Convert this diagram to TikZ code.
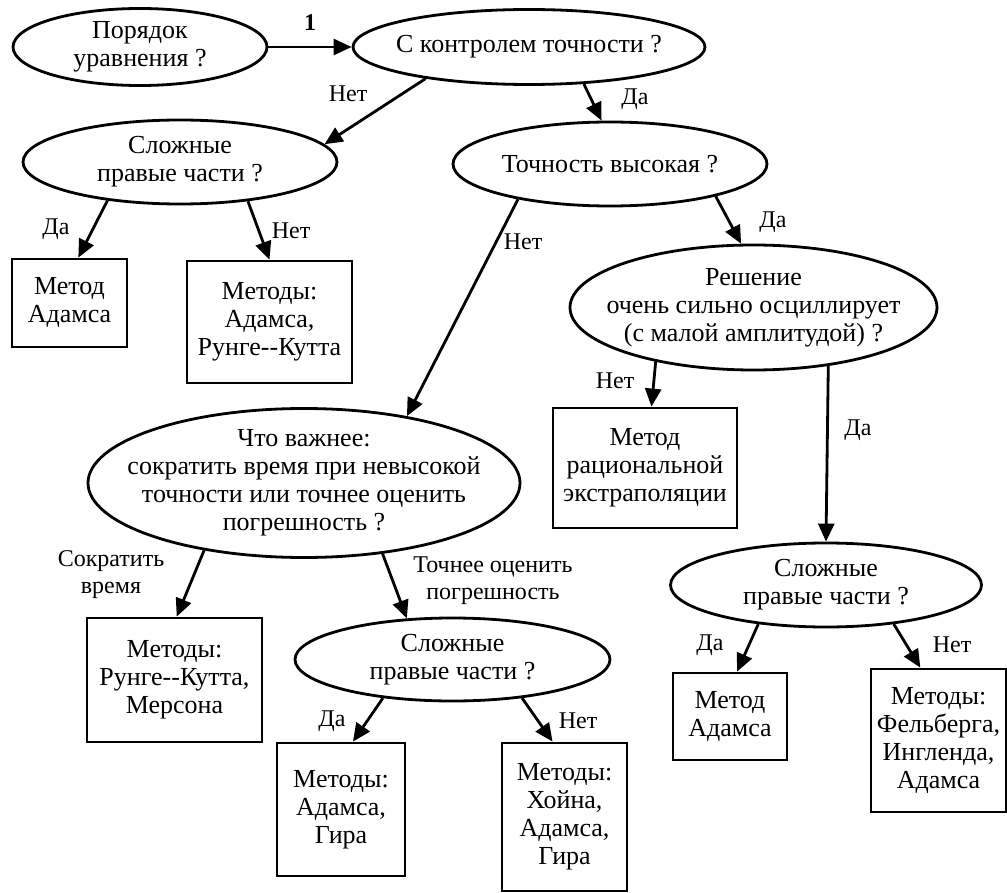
\documentclass[tikz,border=0pt]{standalone}
\usepackage{fontspec}
\setmainfont{Liberation Serif}
\usetikzlibrary{arrows.meta,shapes.geometric}

\begin{document}
\begin{tikzpicture}[
  x=0.5pt, y=-0.5pt,
  quest/.style={
    ellipse, draw, line width=1.4pt,
    inner xsep=-15pt, inner ysep=-1pt,
    align=center, font=\fontsize{13}{14}\selectfont},
  meth/.style={
    rectangle, draw, line width=1.4pt, inner sep=0pt,
    align=center, font=\fontsize{13}{14}\selectfont},
  arr/.style={-{Triangle[length=9pt,width=8pt]}, line width=1.4pt},
  lbl/.style={font=\fontsize{12}{13.5}\selectfont, align=center, inner sep=0pt},
]

\useasboundingbox (0,0) rectangle (1007,893);

%% ---- Questions ----
\node[quest, minimum width=127pt,   minimum height=38.5pt] (order) at (140,47)      {Порядок\\уравнения ?};
\node[quest, minimum width=176pt,   minimum height=37.5pt] (ctrl)  at (529,47)      {С контролем точности ?};
\node[quest, minimum width=157pt,   minimum height=42pt]   (rhsA)  at (180,162)     {Сложные\\правые части ?};
\node[quest, minimum width=157pt,   minimum height=42pt]   (prec)  at (610,164)     {Точность высокая ?};
\node[quest, minimum width=183.5pt, minimum height=62.5pt] (osc)   at (753.5,307.5) {Решение\\очень сильно осциллирует\\(с малой амплитудой) ?};
\node[quest, minimum width=216pt,   minimum height=74.5pt] (what)  at (304,483)     {Что важнее:\\сократить время при невысокой\\точности или точнее оценить\\погрешность ?};
\node[quest, minimum width=157.5pt, minimum height=41.5pt] (rhsB)  at (452.5,659.5) {Сложные\\правые части ?};
\node[quest, minimum width=155.5pt, minimum height=42pt]   (rhsC)  at (826,585)     {Сложные\\правые части ?};

%% ---- Methods ----
\node[meth, minimum width=57.5pt, minimum height=44pt]   (adA)  at (69.5,303)   {Метод\\Адамса};
\node[meth, minimum width=82.5pt, minimum height=61pt]   (adRK) at (269.5,322)  {Методы:\\Адамса,\\Рунге-{}-Кутта};
\node[meth, minimum width=92pt,   minimum height=60pt]   (ratx) at (645,468)    {Метод\\рациональной\\экстраполяции};
\node[meth, minimum width=87.5pt, minimum height=62pt]   (rkm)  at (174.5,680)  {Методы:\\Рунге-{}-Кутта,\\Мерсона};
\node[meth, minimum width=64pt,   minimum height=66.5pt] (adG)  at (341,809.5)  {Методы:\\Адамса,\\Гира};
\node[meth, minimum width=62.5pt, minimum height=74pt]   (hoy)  at (564.5,817)  {Методы:\\Хойна,\\Адамса,\\Гира};
\node[meth, minimum width=57pt,   minimum height=43.5pt] (adB)  at (730,716.5)  {Метод\\Адамса};
\node[meth, minimum width=67.5pt, minimum height=71.5pt] (feh)  at (938.5,740.5) {Методы:\\Фельберга,\\Ингленда,\\Адамса};

%% ---- Connectors ----
\draw[arr] (order.east)  -- (ctrl.west);
\draw[arr] (ctrl.197)    -- (rhsA.7);
\draw[arr] (ctrl.-34)    -- (prec.101);
\draw[arr] (rhsA.208)    -- (adA.79);
\draw[arr] (rhsA.-30)    -- (adRK.north);
\draw[arr] (prec.-17)    -- (osc.101);
\draw[arr] (prec.201)    -- (what.33);
\draw[arr] (osc.209)     -- (ratx.84);
\draw[arr] (osc.-38.4)   -- (rhsC.north);
\draw[arr] (what.214)    -- (rkm.88);
\draw[arr] (what.-42)    -- (rhsB.138);
\draw[arr] (rhsB.209)    -- (adG.80);
\draw[arr] (rhsB.-29)    -- (hoy.99);
\draw[arr] (rhsC.210)    -- (adB.81);
\draw[arr] (rhsC.-30)    -- (feh.104.5);

%% ---- Labels ----
\node[lbl, font=\fontsize{12}{13.5}\selectfont\bfseries] (one) at (310,23) {1};
\node[lbl] (n1)  at (348,94)  {Нет};
\node[lbl] (y1)  at (635,99)  {Да};
\node[lbl] (y2)  at (56,229)  {Да};
\node[lbl] (n2)  at (291,231) {Нет};
\node[lbl] (n3)  at (523,242) {Нет};
\node[lbl] (y3)  at (773,222) {Да};
\node[lbl] (n4)  at (615,381) {Нет};
\node[lbl] (y4)  at (858,430) {Да};
\node[lbl] (y5)  at (710,645) {Да};
\node[lbl] (n5)  at (952,645) {Нет};
\node[lbl] (y6)  at (332,721) {Да};
\node[lbl] (n6)  at (578,721) {Нет};
\node[lbl] (cut) at (111,575) {Сократить\\время};
\node[lbl] (est) at (493,581) {Точнее оценить\\погрешность};

\end{tikzpicture}
\end{document}
